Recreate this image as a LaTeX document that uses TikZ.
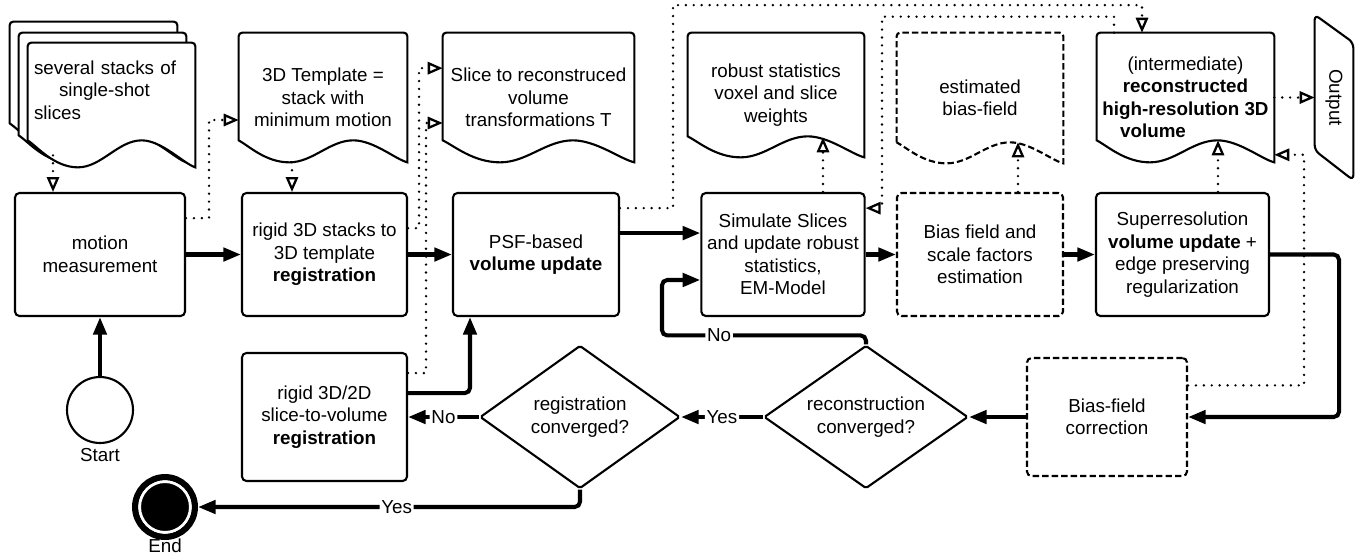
\documentclass[tikz,border=0pt]{standalone}
\usepackage{fontspec}
\setmainfont{Liberation Sans}
\usepackage{graphicx}
\usetikzlibrary{arrows.meta, positioning, shapes, calc, backgrounds}

% document symbol: #2 node, #3 left bottom and #4 right bottom (offsets from south)
\newcommand{\docshape}[4][]{%
  \draw[#1] ($(#2.south west)+(0,#3)$) [rounded corners=2pt] -- (#2.north west) -- (#2.north east) [sharp corners]
    -- ($(#2.south east)+(0,#4)$)
    .. controls ($(#2.south west)!0.93!(#2.south east)+(0,{#3+0.86*(#4-(#3))})$)
       and ($(#2.south west)!0.80!(#2.south east)+(0,#3)$) .. ($(#2.south west)!0.68!(#2.south east)+(0,#3)$)
    .. controls ($(#2.south west)!0.54!(#2.south east)+(0,#3)$)
       and ($(#2.south west)!0.44!(#2.south east)+(0,#4)$) .. ($(#2.south west)!0.30!(#2.south east)+(0,#4)$)
    .. controls ($(#2.south west)!0.16!(#2.south east)+(0,#4)$)
       and ($(#2.south west)!0.06!(#2.south east)+(0,{#3+0.25*(#4-(#3))})$) .. ($(#2.south west)+(0,#3)$) -- cycle;
}

\begin{document}
\begin{tikzpicture}[x=0.02cm, y=-0.02cm,
  every node/.style={font=\fontsize{10.7pt}{12.8pt}\selectfont},
  box/.style={rectangle, rounded corners=2.5pt, draw, line width=1.2pt, minimum width=3.3cm, minimum height=2.46cm, align=center},
  dbox/.style={box, dash pattern=on 3.6pt off 1.8pt},
  doc/.style={rectangle, inner sep=2pt, align=center},
  decision/.style={diamond, draw, line width=1.2pt, rounded corners=1pt, shape aspect=1.4, minimum width=4cm, minimum height=2.86cm, inner sep=0pt, align=center},
  flow/.style={line width=2.3pt, rounded corners=3pt, -{Triangle[length=10pt, width=7.5pt]}},
  info/.style={line width=1.5pt, line cap=round, dash pattern=on 0pt off 4.5pt, -{Triangle[open, length=8.5pt, width=7pt, line width=1.3pt]}},
  lbl/.style={fill=white, inner sep=1pt},
  outline/.style={line width=1.2pt}
]
\useasboundingbox (0,0) rectangle (1367,556);

% input stacks
\node[doc, minimum width=3.34cm, minimum height=1.88cm] (stacka) at (93.5,69) {};
\node[doc, minimum width=3.34cm, minimum height=1.88cm] (stackb) at (102.5,80) {};
\node[doc, minimum width=3.34cm, minimum height=1.88cm, text width=3.1cm, align=left] (slices) at (111.5,90) {several stacks of\\\hspace*{0.5cm}single-shot\\slices};
\begin{scope}[on background layer]
  \docshape[outline, fill=white]{stacka}{7}{34}
  \docshape[outline, fill=white]{stackb}{8}{35}
  \docshape[outline, fill=white]{slices}{3}{30}
\end{scope}

% main row
\node[box, minimum width=3.4cm] (motion) at (100,254.5) {motion\\measurement};
\node[box] (reg3d) at (324.5,254.5) {rigid 3D stacks to\\3D template\\\textbf{registration}};
\node[box, minimum width=3.32cm] (psf) at (536,254.5) {PSF-based\\\textbf{volume update}};
\node[box, minimum width=3.24cm] (sim) at (783,254.5) {Simulate Slices\\and update robust\\statistics,\\EM-Model};
\node[dbox, minimum width=3.32cm] (biasest) at (980,254.5) {Bias field and\\scale factors\\estimation};
\node[box, minimum width=3.46cm] (superres) at (1182.5,254.5) {Superresolution\\\textbf{volume update} +\\edge preserving\\regularization};

% documents
\node[doc, minimum width=3.36cm, minimum height=2.58cm] (tmpl) at (323,97.5) {3D Template =\\stack with\\minimum motion};
\node[doc, minimum width=3.82cm, minimum height=2.58cm] (trans) at (538.5,97.5) {Slice to reconstruced\\volume\\transformations T};
\node[doc, minimum width=3.52cm, minimum height=2.48cm] (robust) at (776,95) {robust statistics\\voxel and slice\\weights};
\node[doc, minimum width=3.32cm, minimum height=2.6cm] (biasdoc) at (980,98) {estimated\\bias-field};
\node[doc, minimum width=3.54cm, minimum height=2.58cm] (recon) at (1185.5,97.5) {(intermediate)\\\textbf{reconstructed}\\\textbf{high-resolution 3D}\\\textbf{volume}\hspace*{1.3cm}};
\node[doc, minimum width=0.76cm, minimum height=3.3cm, inner sep=0pt] (output) at (1334,97.5) {\rotatebox{-90}{Output}};

\docshape[outline]{tmpl}{-22}{0}
\docshape[outline]{trans}{-22}{0}
\docshape[outline]{robust}{-21}{0}
\docshape[outline, dash pattern=on 3.6pt off 1.8pt]{biasdoc}{-21}{0}
\docshape[outline]{recon}{-22}{0}
\draw[outline, rounded corners=3pt] (output.north west) -- ($(output.north east)+(0,28)$) -- (output.south east) -- ($(output.south west)+(0,-30)$) -- cycle;

% lower row
\node[box, minimum height=2.56cm] (reg2d) at (324.5,417) {rigid 3D/2D\\slice-to-volume\\\textbf{registration}};
\node[decision] (regconv) at (580,417) {registration\\converged?};
\node[decision, minimum width=4.08cm] (recconv) at (866,417) {reconstruction\\converged?};
\node[dbox, minimum width=3.2cm, minimum height=2.36cm] (biascorr) at (1107,417) {Bias-field\\correction};

\node[circle, draw, line width=1.2pt, minimum size=1.32cm, label={[label distance=-1pt]below:Start}] (start) at (100,410) {};
\node[circle, draw, fill=black, line width=3.4pt, minimum size=1.2cm,
  path picture={\draw[white, line width=1.7pt] (path picture bounding box.center) circle (0.51cm);},
  label={[label distance=-4pt]below:End}] (finish) at (165,507) {};

% main flow
\draw[flow] (start) -- (motion);
\draw[flow] (motion) -- (reg3d);
\draw[flow] (reg3d) -- (psf);
\draw[flow] ([yshift=12.2pt]psf.east) -- ([yshift=12.2pt]sim.west);
\draw[flow] (sim) -- (biasest);
\draw[flow] (biasest) -- (superres);
\draw[flow] (superres.east) -- ++(69,0) |- (biascorr.east);
\draw[flow] (biascorr) -- (recconv);
\draw[flow] (recconv) -- node[lbl] {Yes} (regconv);
\draw[flow] (regconv) -- node[lbl] {No} (reg2d);
\draw[flow] ([yshift=13.6pt]reg2d.east) -| ([xshift=-1.32cm]psf.south);
\draw[flow] (recconv.north) -- ++(0,-9) -- node[lbl, pos=0.72] {No} ++(-204,0) |- ([yshift=-14.5pt]sim.west);
\draw[flow] (regconv.south) |- node[lbl, pos=0.74] {Yes} (finish);

% data links
\draw[info] ([xshift=-1.17cm, yshift=-0.36cm]slices.south) -- ([xshift=-0.94cm]motion.north);
\draw[info] ([yshift=20.7pt]motion.east) -- ++(23,0) |- ([yshift=-12.8pt]tmpl.west);
\draw[info] ([xshift=-0.62cm]tmpl.south) -- ([xshift=-0.65cm]reg3d.north);
\draw[info] ([yshift=15pt]reg3d.east) -- ++(11,0) |- ([yshift=16.7pt]trans.west);
\draw[info] ([yshift=25pt]reg2d.east) -- ++(18,0) |- ([yshift=-14.5pt]trans.west);
\draw[info] ([yshift=26.4pt]psf.east) -- ++(53,0) -- ++(0,-203) -| ([xshift=-0.87cm]recon.north);
\draw[info] ([xshift=-1.43cm]recon.north) -- ++(0,-16) -- ++(-232,0) |- ([yshift=26.4pt]sim.east);
\draw[info] ([xshift=0.8cm]sim.north) -- ([xshift=0.94cm, yshift=0.4cm]robust.south);
\draw[info] ([xshift=0.76cm]biasest.north) -- ([xshift=0.76cm, yshift=0.42cm]biasdoc.south);
\draw[info] ([xshift=0.71cm]superres.north) -- ([xshift=0.65cm, yshift=0.44cm]recon.south);
\draw[info] (recon.east) -- (output.west);
\draw[info] ([yshift=18pt]biascorr.east) -- ++(116,0) |- ([yshift=-32.6pt]recon.east);
\end{tikzpicture}
\end{document}
